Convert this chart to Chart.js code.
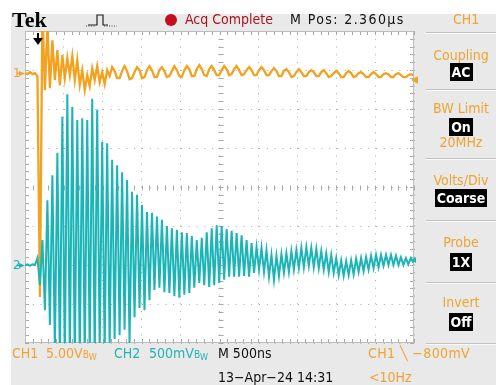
<!DOCTYPE html>
<html><head><meta charset="utf-8">
<script src="https://cdn.jsdelivr.net/npm/chart.js@4.4.0/dist/chart.umd.min.js"></script>
<style>
html,body{margin:0;padding:0;background:#fff;}
#wrap{position:relative;width:496px;height:385px;overflow:hidden;background:#fff;}
#screen{position:absolute;left:11px;top:14px;width:485px;height:371px;background:#e9e9e9;}
#c{position:absolute;left:0;top:0;}
.t{position:absolute;white-space:nowrap;font-family:"DejaVu Sans Condensed","Liberation Sans Narrow",sans-serif;font-size:14px;line-height:1;}
.or{color:#f0a331}
.tl{color:#22b3b6}
.bk{color:#111}
.ctr{left:426px;width:70px;text-align:center;}
.box{background:#000;color:#fff;font-weight:bold;padding:1px 2px;}
.sep{position:absolute;left:426px;width:70px;height:0;border-top:1px solid #c2c2c2;border-bottom:1px solid #fafafa;}
.bw{font-size:10px;}
.bw sub{font-size:9px;vertical-align:-2px;}
svg{position:absolute;overflow:visible;}
</style></head>
<body>
<div id="wrap">
<div id="screen"></div>
<canvas id="c" width="496" height="385"></canvas>

<div class="t" style="left:12px;top:9px;font-family:'Liberation Serif',serif;font-weight:bold;font-size:22px;color:#000;">Tek</div>
<svg style="left:0;top:0" width="496" height="385">
  <polyline points="88,25 97,25 97,15 103,15 103,25 108,25" fill="none" stroke="#222" stroke-width="1.2"/>
  <line x1="86" y1="26" x2="96" y2="26" stroke="#444" stroke-width="1" stroke-dasharray="1,1.5"/>
  <line x1="104" y1="26" x2="117" y2="26" stroke="#444" stroke-width="1" stroke-dasharray="1,1.5"/>
  <circle cx="171" cy="20" r="6" fill="#c4101c"/>
  <line x1="38" y1="33" x2="38" y2="40" stroke="#000" stroke-width="2"/>
  <polygon points="33,38 43,38 38,45" fill="#000"/>
  <polygon points="19,71 25,73.5 19,76" fill="#f0a331"/>
  <line x1="17" y1="73.5" x2="21" y2="73.5" stroke="#f0a331" stroke-width="1.5"/>
  <polygon points="19,263 25,265.5 19,268" fill="#22b3b6"/>
  <line x1="17" y1="265.5" x2="21" y2="265.5" stroke="#22b3b6" stroke-width="1.5"/>
  <polygon points="411,80 418,76 418,84" fill="#f0a331"/>
  <polygon points="411,260 416,257 416,263" fill="#22b3b6"/>
</svg>
<div class="t" style="left:185px;top:12px;color:#a8141c;">Acq Complete</div>
<div class="t bk" style="left:290px;top:12px;letter-spacing:1.4px;">M Pos: 2.360µs</div>
<div class="t or" style="left:453px;top:12px;">CH1</div>

<div class="sep" style="top:32px"></div>
<div class="t or ctr" style="top:48px;">Coupling</div>
<div class="t ctr" style="top:65px;"><span class="box">AC</span></div>
<div class="sep" style="top:89px"></div>
<div class="t or ctr" style="top:101px;">BW Limit</div>
<div class="t ctr" style="top:120px;"><span class="box">On</span></div>
<div class="t or ctr" style="top:135px;">20MHz</div>
<div class="sep" style="top:158px"></div>
<div class="t or ctr" style="top:173px;">Volts/Div</div>
<div class="t ctr" style="top:191px;"><span class="box">Coarse</span></div>
<div class="sep" style="top:220px"></div>
<div class="t or ctr" style="top:235px;">Probe</div>
<div class="t ctr" style="top:255px;"><span class="box">1X</span></div>
<div class="sep" style="top:282px"></div>
<div class="t or ctr" style="top:295px;">Invert</div>
<div class="t ctr" style="top:315px;"><span class="box">Off</span></div>
<div class="sep" style="top:343px"></div>

<div class="t or" style="left:13px;top:66px;font-size:13px;">1</div>
<div class="t tl" style="left:13px;top:258px;font-size:13px;">2</div>

<div class="t or" style="left:12px;top:346px;">CH1</div>
<div class="t or" style="left:46px;top:346px;">5.00V<span class="bw">B<sub>W</sub></span></div>
<div class="t tl" style="left:114px;top:346px;">CH2</div>
<div class="t tl" style="left:149px;top:346px;">500mV<span class="bw">B<sub>W</sub></span></div>
<div class="t bk" style="left:218px;top:346px;">M 500ns</div>
<div class="t or" style="left:368px;top:346px;letter-spacing:0.4px;">CH1 ╲ −800mV</div>
<div class="t bk" style="left:218px;top:370px;">13−Apr−24 14:31</div>
<div class="t or" style="left:369px;top:370px;">&lt;10Hz</div>
</div>

<script>
// ---- Scope settings ----
const timePerDivUs = 0.5;          // M 500ns
const horizDivs = 10;
const vertDivs = 8;
const sampleIntervalUs = 0.032;    // record sample spacing
const ch1VoltsPerDiv = 5.0;        // CH1 5.00V
const ch2VoltsPerDiv = 0.5;        // CH2 500mV
const ch1PositionDiv = 2.92;       // CH1 ground marker
const ch2PositionDiv = -2.0;       // CH2 ground marker

// ---- CH1 record (volts) ----
const ch1Volts = [
  0, -0.13, 0.13, -0.13, 0, -0.38, -28.7, 8.06, -2.18, 6.14,
  -1.92, 4.22, -0.90, 2.94, -1.54, 2.30, -0.64, 1.92, -0.26, 2.18,
  -0.90, 1.66, -1.54, 0.38, -2.18, -0.26, -1.66, 0.64, -0.90, 0.90,
  -1.15, 0.13, -1.41, 0.38, -0.38,
  0.77, 0.26, -0.64, -0.64, 0.26,
  0.90, 0.26, -0.77, -0.64, 0.13,
  0.77, 0.38, -0.64, -0.51, 0.38,
  0.90, 0.38, -0.51, -0.51, 0.38,
  0.77, 0.26, -0.51, -0.38, 0.26,
  0.90, 0.38, -0.38, -0.51, 0.38,
  0.90, 0.51, -0.38, -0.38, 0.51,
  1.02, 0.51, -0.26, -0.38, 0.51,
  0.90, 0.38, -0.26, -0.26, 0.38,
  0.90, 0.51, -0.26, -0.13, 0.51,
  0.90, 0.38, -0.26, -0.13, 0.38,
  0.77, 0.38, -0.26, -0.26, 0.38,
  0.77, 0.38, -0.26, -0.26, 0.26,
  0.64, 0.26, -0.38, -0.38, 0.26,
  0.51, 0.13, -0.51, -0.38, 0.13,
  0.51, 0.13, -0.38, -0.38, 0.13,
  0.38, 0.13, -0.38, -0.38, 0.13,
  0.38, 0, -0.51, -0.38, 0,
  0.26, 0, -0.51, -0.51, 0,
  0.26, 0, -0.51, -0.38, 0,
  0.13, -0.13, -0.51, -0.51, -0.13,
  0.13, -0.13, -0.51, -0.51, -0.13,
  0, -0.13, -0.51, -0.51, -0.13,
  0, -0.26, -0.51, -0.51, -0.26,
  -0.13, -0.26
];

// ---- CH2 record (volts) ----
const ch2Volts = [
  0.00, 0.01, -0.01, 0.01, 0.00, 0.09, -0.26, 0.32, -0.58, 0.83,
  -0.77, 1.15, -1.10, 1.44, -1.20, 1.90, -1.25, 2.19, -1.20, 2.03,
  -1.25, 1.86, -1.20, 1.88, -1.20, 1.86, -1.15, 2.13, -1.20, 1.99,
  -1.10, 1.58, -1.10, 1.56, -1.05, 1.35, -0.95, 1.28, -0.90, 1.19,
  -0.83, 1.09, -1.00, 0.94, -0.67, 0.90, -0.55, 0.77, -0.58, 0.68,
  -0.45, 0.67, -0.32, 0.62, -0.29, 0.58, -0.35, 0.50, -0.36, 0.47,
  -0.40, 0.45, -0.42, 0.42, -0.38, 0.41, -0.36, 0.37, -0.29, 0.32,
  -0.23, 0.35, -0.26, 0.42, -0.28, 0.47, -0.26, 0.51, -0.23, 0.50,
  -0.19, 0.46, -0.15, 0.44, -0.15, 0.41, -0.15, 0.38, -0.14, 0.32,
  -0.15, 0.28, -0.10, 0.23, -0.06, 0.22, -0.09, 0.19, -0.15, 0.13,
  -0.19, 0.12, -0.14, 0.14, -0.10, 0.15, -0.09, 0.18, -0.06, 0.19,
  -0.04, 0.22, -0.03, 0.23, -0.01, 0.22, -0.03, 0.21, -0.04, 0.18,
  -0.06, 0.15, -0.09, 0.13, -0.10, 0.09, -0.13, 0.06, -0.14, 0.05,
  -0.13, 0.06, -0.12, 0.08, -0.09, 0.09, -0.08, 0.10, -0.06, 0.12,
  -0.04, 0.13, -0.03, 0.13, -0.01, 0.13, 0.00, 0.13, 0.00, 0.12,
  0.00, 0.10, 0.00, 0.09, 0.01, 0.09, 0.03
];

const xMax = timePerDivUs * horizDivs;
const yHalf = vertDivs / 2;

const toPoints = (arr, vpd, pos) =>
  arr.map((v, i) => ({ x: i * sampleIntervalUs, y: v / vpd + pos }));

const scopeGraticule = {
  id: 'scopeGraticule',
  beforeDraw(chart) {
    const { ctx, chartArea: a } = chart;
    ctx.save();
    ctx.fillStyle = '#ffffff';
    ctx.fillRect(a.left, a.top, a.right - a.left, a.bottom - a.top);
    ctx.restore();
  },
  beforeDatasetsDraw(chart) {
    const { ctx, chartArea: a, scales: { x, y } } = chart;
    ctx.save();
    ctx.strokeStyle = '#a8a8a8';
    ctx.lineWidth = 1;
    const cx = Math.round(x.getPixelForValue(xMax / 2)) + 0.5;
    const cy = Math.round(y.getPixelForValue(0)) + 0.5;
    ctx.beginPath();
    const xStep = timePerDivUs / 5;
    for (let k = 0; k <= horizDivs * 5; k++) {
      const px = Math.round(x.getPixelForValue(k * xStep)) + 0.5;
      ctx.moveTo(px, a.top); ctx.lineTo(px, a.top + 4);
      ctx.moveTo(px, a.bottom); ctx.lineTo(px, a.bottom - 4);
      ctx.moveTo(px, cy - 2); ctx.lineTo(px, cy + 3);
    }
    for (let k = 0; k <= vertDivs * 5; k++) {
      const py = Math.round(y.getPixelForValue(-yHalf + k * 0.2)) + 0.5;
      ctx.moveTo(a.left, py); ctx.lineTo(a.left + 4, py);
      ctx.moveTo(a.right, py); ctx.lineTo(a.right - 4, py);
      ctx.moveTo(cx - 2, py); ctx.lineTo(cx + 3, py);
    }
    ctx.stroke();
    ctx.strokeStyle = '#bdbdbd';
    ctx.strokeRect(Math.round(a.left) + 0.5, Math.round(a.top) + 0.5,
      Math.round(a.right - a.left) - 1, Math.round(a.bottom - a.top) - 1);
    ctx.restore();
  }
};

new Chart(document.getElementById('c'), {
  type: 'line',
  data: {
    datasets: [
      {
        label: 'CH2',
        data: toPoints(ch2Volts, ch2VoltsPerDiv, ch2PositionDiv),
        borderColor: '#1bb4b7',
        borderWidth: 2,
        pointRadius: 0,
        tension: 0,
        clip: 0
      },
      {
        label: 'CH1',
        data: toPoints(ch1Volts, ch1VoltsPerDiv, ch1PositionDiv),
        borderColor: '#f3a21f',
        borderWidth: 2.3,
        pointRadius: 0,
        tension: 0,
        clip: 0
      }
    ]
  },
  options: {
    responsive: false,
    animation: false,
    devicePixelRatio: 1,
    layout: { padding: { left: 25, top: 31, right: 82, bottom: 42 } },
    plugins: { legend: { display: false }, tooltip: { enabled: false } },
    scales: {
      x: {
        type: 'linear', min: 0, max: xMax,
        ticks: { display: false, stepSize: timePerDivUs },
        grid: { color: '#a9a9a9', lineWidth: 1, drawTicks: false },
        border: { display: false, dash: [1, 6.78] }
      },
      y: {
        type: 'linear', min: -yHalf, max: yHalf,
        ticks: { display: false, stepSize: 1 },
        grid: { color: '#a9a9a9', lineWidth: 1, drawTicks: false },
        border: { display: false, dash: [1, 6.8] }
      }
    }
  },
  plugins: [scopeGraticule]
});
</script>
</body></html>
